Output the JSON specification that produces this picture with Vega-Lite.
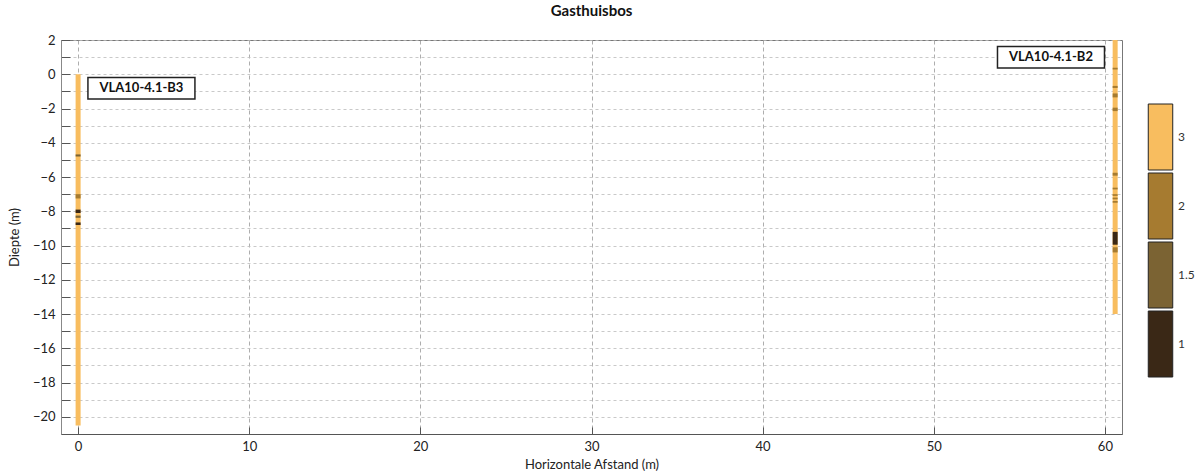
{
  "$schema": "https://vega.github.io/schema/vega-lite/v6.json",
  "width": 1061,
  "height": 394,
  "autosize": {"type": "none"},
  "padding": {"left": 61, "top": 40, "right": 74, "bottom": 39},
  "background": "white",
  "title": {"text": "Gasthuisbos", "fontSize": 15, "fontWeight": "bold", "font": "Lato", "color": "#111", "offset": 15},
  "config": {
    "view": {"stroke": "#777", "strokeWidth": 1},
    "font": "Lato",
    "axis": {"labelFont": "Lato", "titleFont": "Lato", "labelColor": "#222", "titleColor": "#222", "labelFontSize": 13, "titleFontSize": 13, "titleFontWeight": "normal", "domainColor": "#666", "tickColor": "#555"},
    "legend": {"rowPadding": -4}
  },
  "datasets": {
    "segments": [
      {"bh": "VLA10-4.1-B3", "x": 0, "top": 0, "bottom": -20.5, "cls": "3"},
      {"bh": "VLA10-4.1-B3", "x": 0, "top": -4.68, "bottom": -4.8, "cls": "1.5"},
      {"bh": "VLA10-4.1-B3", "x": 0, "top": -7.0, "bottom": -7.25, "cls": "2"},
      {"bh": "VLA10-4.1-B3", "x": 0, "top": -7.9, "bottom": -8.1, "cls": "1"},
      {"bh": "VLA10-4.1-B3", "x": 0, "top": -8.25, "bottom": -8.38, "cls": "1.5"},
      {"bh": "VLA10-4.1-B3", "x": 0, "top": -8.65, "bottom": -8.8, "cls": "1"},
      {"bh": "VLA10-4.1-B2", "x": 60.6, "top": 2, "bottom": -14, "cls": "3"},
      {"bh": "VLA10-4.1-B2", "x": 60.6, "top": 0.38, "bottom": 0.28, "cls": "2"},
      {"bh": "VLA10-4.1-B2", "x": 60.6, "top": -0.68, "bottom": -0.8, "cls": "2"},
      {"bh": "VLA10-4.1-B2", "x": 60.6, "top": -1.12, "bottom": -1.35, "cls": "2"},
      {"bh": "VLA10-4.1-B2", "x": 60.6, "top": -1.95, "bottom": -2.15, "cls": "2"},
      {"bh": "VLA10-4.1-B2", "x": 60.6, "top": -5.75, "bottom": -5.92, "cls": "2"},
      {"bh": "VLA10-4.1-B2", "x": 60.6, "top": -6.62, "bottom": -6.72, "cls": "2"},
      {"bh": "VLA10-4.1-B2", "x": 60.6, "top": -7.0, "bottom": -7.1, "cls": "2"},
      {"bh": "VLA10-4.1-B2", "x": 60.6, "top": -7.2, "bottom": -7.3, "cls": "2"},
      {"bh": "VLA10-4.1-B2", "x": 60.6, "top": -7.4, "bottom": -7.5, "cls": "2"},
      {"bh": "VLA10-4.1-B2", "x": 60.6, "top": -9.2, "bottom": -9.95, "cls": "1"},
      {"bh": "VLA10-4.1-B2", "x": 60.6, "top": -10.1, "bottom": -10.4, "cls": "2"}
    ],
    "labels": [
      {"label": "VLA10-4.1-B3", "x": 3.7, "top": -0.82},
      {"label": "VLA10-4.1-B2", "x": 56.85, "top": 0.99}
    ]
  },
  "encoding": {
    "x": {
      "field": "x", "type": "quantitative",
      "scale": {"domain": [-1, 61], "nice": false, "zero": false, "padding": 0},
      "axis": {"title": "Horizontale Afstand (m)", "values": [0, 10, 20, 30, 40, 50, 60], "grid": true, "gridDash": [4, 3], "gridColor": "#999", "gridWidth": 0.8, "tickSize": -7, "labelPadding": 13, "titlePadding": 5, "domainColor": "#555"}
    },
    "y": {
      "field": "top", "type": "quantitative",
      "scale": {"domain": [-21, 2], "nice": false, "zero": false, "padding": 0},
      "axis": {"title": "Diepte (m)", "values": [-20, -19, -18, -17, -16, -15, -14, -13, -12, -11, -10, -9, -8, -7, -6, -5, -4, -3, -2, -1, 0, 1, 2], "labelExpr": "datum.value % 2 === 0 ? datum.label : ''", "labelOverlap": false, "grid": true, "gridDash": [3, 3], "gridColor": "#bbb", "gridWidth": 0.8, "tickSize": -9, "labelPadding": 15, "titlePadding": 11, "domainColor": "#888"}
    }
  },
  "layer": [
    {
      "data": {"name": "segments"},
      "mark": {"type": "bar", "size": 5, "opacity": 1},
      "encoding": {
        "y2": {"field": "bottom"},
        "color": {
          "field": "cls", "type": "nominal",
          "scale": {"domain": ["3", "2", "1.5", "1"], "range": ["#F8BD5F", "#A67B30", "#7B6333", "#3A2816"]},
          "legend": {"title": null, "orient": "none", "legendX": 1066, "legendY": 63.5, "symbolType": "M-0.371,-1H0.371V1H-0.371Z", "symbolSize": 4356, "symbolStrokeWidth": 1, "symbolStrokeColor": "#222", "symbolOpacity": 1, "rowPadding": -4, "labelOffset": -16, "labelFontSize": 12, "labelFont": "Lato", "labelColor": "#333", "padding": 0}
        }
      }
    },
    {
      "data": {"name": "labels"},
      "mark": {"type": "point", "shape": "M-1,-0.2H1V0.2H-1Z", "size": 11449, "filled": true, "fill": "white", "stroke": "#222", "strokeWidth": 1.5, "opacity": 1}
    },
    {
      "data": {"name": "labels"},
      "mark": {"type": "text", "font": "Lato", "fontSize": 13, "fontWeight": "bold", "color": "#111", "align": "center", "baseline": "middle"},
      "encoding": {"text": {"field": "label"}}
    }
  ]
}
